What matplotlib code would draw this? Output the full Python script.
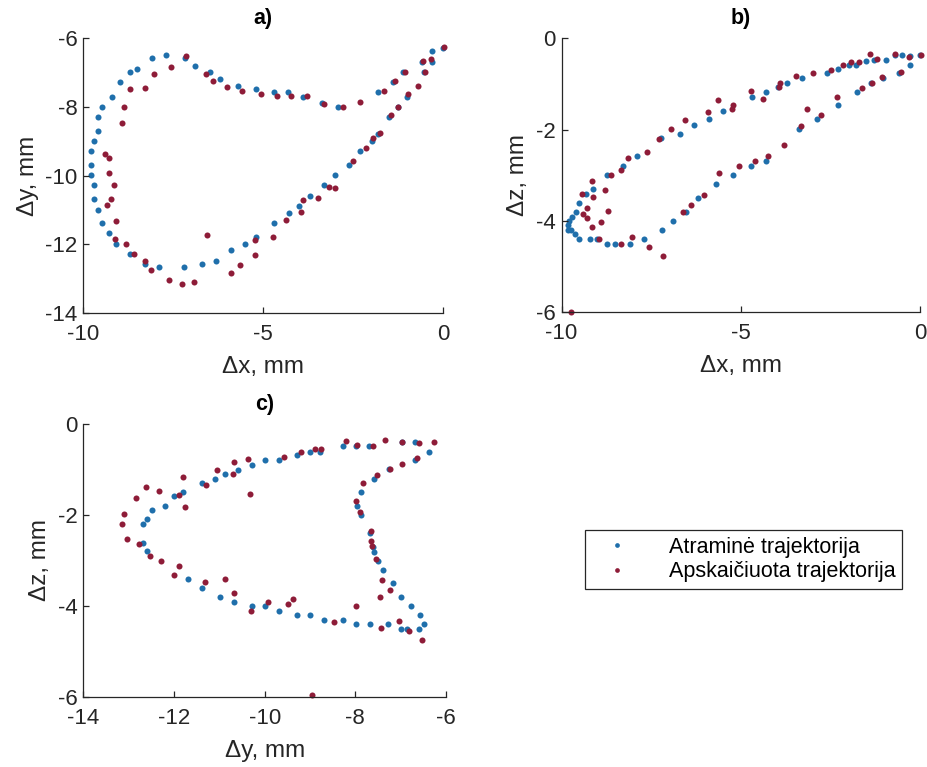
import matplotlib
matplotlib.use("Agg")
import matplotlib.pyplot as plt
from matplotlib.lines import Line2D

plt.rcParams['font.family'] = ['Liberation Sans', 'DejaVu Sans']

# --- a) Δx vs Δy ---
a_ref_x = [0.00, -0.31, -0.31, -0.60, -0.53, -1.11, -1.39, -1.81, -2.92, -3.38, -3.89, -4.31,
           -4.70, -5.19, -5.69, -6.20, -6.48, -6.90, -7.18, -7.70, -8.10, -8.50, -8.70, -8.98,
           -9.19, -9.49, -9.58, -9.58, -9.70, -9.79, -9.79, -9.79, -9.69, -9.69, -9.58, -9.49,
           -9.29, -9.09, -8.69, -8.29, -7.89, -7.19, -6.69, -6.30, -5.90, -5.50, -5.20, -4.69,
           -4.30, -4.00, -3.70, -3.31, -3.00, -2.61, -2.31, -1.99, -1.81, -1.50, -1.27, -1.00]
a_ref_y = [-6.29, -6.37, -6.70, -6.70, -6.99, -6.99, -7.28, -7.58, -7.99, -7.89, -7.70, -7.58,
           -7.58, -7.49, -7.39, -7.19, -6.99, -6.80, -6.58, -6.49, -6.58, -6.89, -6.99, -7.28,
           -7.70, -7.99, -8.30, -8.69, -8.98, -9.30, -9.69, -9.98, -10.29, -10.69, -11.00, -11.39,
           -11.68, -11.99, -12.28, -12.58, -12.68, -12.68, -12.58, -12.49, -12.18, -11.99, -11.80, -11.39,
           -11.09, -10.89, -10.59, -10.29, -9.99, -9.69, -9.29, -8.99, -8.80, -8.30, -7.99, -7.70]
a_est_x = [0.03, -0.35, -0.56, -0.51, -1.06, -1.34, -1.64, -2.31, -2.78, -3.31, -3.80, -4.23,
           -4.61, -5.07, -5.60, -6.02, -6.39, -6.60, -7.15, -7.55, -8.03, -8.29, -8.69, -8.86,
           -8.92, -9.40, -9.28, -9.28, -9.14, -9.24, -9.35, -9.09, -9.12, -8.80, -8.59, -8.29,
           -8.13, -7.61, -7.27, -6.93, -6.56, -5.91, -5.65, -5.23, -5.23, -4.72, -4.37, -3.95,
           -3.89, -3.47, -3.17, -3.01, -2.50, -2.16, -1.94, -1.76, -1.44, -1.25, -0.97, -0.71]
a_est_y = [-6.26, -6.61, -6.65, -6.97, -6.97, -7.24, -7.53, -7.87, -7.99, -7.91, -7.67, -7.67,
           -7.67, -7.63, -7.55, -7.43, -7.24, -7.04, -6.53, -6.83, -7.04, -7.44, -7.49, -7.99,
           -8.48, -9.37, -9.50, -9.93, -10.29, -10.68, -10.85, -11.32, -11.85, -11.99, -12.28, -12.50,
           -12.75, -13.04, -13.16, -13.11, -11.73, -12.83, -12.62, -12.31, -11.87, -11.80, -11.29, -11.05,
           -10.71, -10.67, -10.34, -10.37, -9.59, -9.20, -8.91, -8.77, -8.23, -7.99, -7.63, -7.39]

# --- b) Δx vs Δz ---
b_ref_x = [0.00, -0.28, -0.51, -0.70, -0.97, -1.30, -1.53, -1.79, -1.99, -2.30, -2.60, -3.29,
           -3.71, -3.97, -4.30, -4.70, -5.50, -5.89, -6.31, -6.71, -7.22, -7.90, -8.30, -8.72,
           -9.11, -9.32, -9.51, -9.60, -9.72, -9.79, -9.83, -9.81, -9.74, -9.63, -9.51, -9.21,
           -9.02, -8.72, -8.51, -8.10, -7.70, -7.21, -6.90, -6.52, -6.20, -5.70, -5.21, -4.71,
           -4.29, -3.39, -2.89, -2.30, -1.78, -1.39, -1.04, -0.60, -0.30]
b_ref_z = [-0.37, -0.38, -0.37, -0.37, -0.47, -0.47, -0.49, -0.58, -0.58, -0.68, -0.77, -0.88,
           -0.97, -1.07, -1.18, -1.29, -1.59, -1.78, -1.89, -2.09, -2.18, -2.59, -2.79, -3.00,
           -3.30, -3.41, -3.60, -3.80, -3.91, -4.00, -4.10, -4.21, -4.21, -4.30, -4.41, -4.41,
           -4.41, -4.51, -4.51, -4.51, -4.41, -4.21, -4.01, -3.80, -3.51, -3.20, -2.99, -2.79,
           -2.70, -1.99, -1.78, -1.47, -1.18, -0.97, -0.88, -0.77, -0.58]
b_est_x = [0.02, -0.32, -0.70, -1.42, -1.21, -1.72, -1.93, -2.15, -2.50, -2.99, -3.48, -3.91,
           -3.94, -4.38, -4.72, -5.22, -5.24, -5.65, -5.92, -6.57, -6.94, -7.28, -7.63, -8.14,
           -8.33, -8.63, -9.14, -9.11, -9.42, -9.28, -9.39, -9.29, -9.16, -8.89, -8.79, -8.70,
           -8.95, -8.35, -8.04, -7.56, -7.16, -6.61, -6.40, -6.03, -5.60, -5.06, -4.62, -4.24,
           -3.80, -3.32, -3.15, -2.78, -2.32, -1.64, -1.35, -1.07, -0.54, -9.73]
b_est_z = [-0.37, -0.40, -0.34, -0.35, -0.46, -0.53, -0.53, -0.58, -0.69, -0.75, -0.82, -0.99,
           -1.07, -1.34, -1.15, -1.47, -1.54, -1.36, -1.61, -1.79, -1.99, -2.20, -2.50, -2.62,
           -2.88, -3.00, -3.12, -3.47, -3.41, -3.71, -3.85, -3.95, -4.13, -4.02, -3.33, -3.79,
           -4.39, -4.51, -4.35, -4.57, -4.78, -3.80, -3.65, -3.43, -2.96, -2.79, -2.69, -2.57,
           -2.35, -1.93, -1.56, -1.68, -1.28, -1.09, -0.97, -0.85, -0.73, -5.99]

# --- c) Δy vs Δz ---
c_ref_y = [-6.37, -6.68, -6.98, -7.69, -7.99, -8.28, -8.79, -8.99, -9.28, -9.69, -9.99, -10.29,
           -10.59, -10.88, -11.09, -11.38, -11.79, -11.99, -12.19, -12.49, -12.60, -12.69, -12.69, -12.60,
           -11.69, -11.38, -10.98, -10.68, -10.29, -9.99, -9.69, -9.29, -8.99, -8.69, -8.28, -7.99,
           -7.68, -7.29, -6.99, -6.87, -6.59, -6.48, -6.57, -6.77, -6.99, -7.18, -7.38, -7.49,
           -7.58, -7.61, -7.67, -7.88, -7.97, -7.88, -7.58, -7.25, -6.68]
c_ref_z = [-0.61, -0.40, -0.40, -0.49, -0.49, -0.49, -0.61, -0.61, -0.69, -0.80, -0.80, -0.90,
           -1.01, -1.09, -1.20, -1.30, -1.50, -1.59, -1.81, -1.90, -2.10, -2.20, -2.61, -2.80,
           -3.41, -3.60, -3.81, -3.91, -4.00, -4.00, -4.11, -4.21, -4.21, -4.31, -4.31, -4.40,
           -4.40, -4.40, -4.50, -4.50, -4.50, -4.40, -4.20, -4.00, -3.81, -3.50, -3.21, -3.01,
           -2.81, -2.70, -2.39, -2.01, -1.80, -1.50, -1.20, -1.00, -0.80]
c_est_y = [-6.26, -6.60, -6.96, -7.35, -7.62, -7.97, -8.20, -8.75, -8.89, -9.19, -9.58, -10.36,
           -10.67, -11.05, -10.70, -11.29, -11.80, -11.88, -11.75, -12.32, -12.62, -12.83, -13.11, -13.15,
           -13.04, -12.77, -12.53, -12.28, -11.88, -11.99, -11.32, -10.87, -10.67, -10.33, -10.30, -9.92,
           -9.49, -9.37, -8.95, -8.47, -7.99, -7.44, -7.03, -6.81, -6.53, -7.23, -7.46, -7.41,
           -7.55, -7.64, -7.66, -7.66, -7.90, -7.99, -7.84, -7.53, -7.23, -6.96, -6.63]
c_est_z = [-0.40, -0.42, -0.40, -0.36, -0.49, -0.46, -0.38, -0.55, -0.56, -0.61, -0.73, -0.77,
           -0.84, -1.02, -1.09, -1.35, -1.17, -1.57, -1.82, -1.47, -1.39, -1.63, -1.99, -2.21,
           -2.52, -2.63, -2.90, -3.01, -3.12, -3.32, -3.47, -3.41, -3.71, -1.55, -4.12, -3.91,
           -3.96, -3.85, -5.96, -4.36, -4.01, -4.49, -4.34, -4.56, -4.76, -3.65, -3.80, -3.43,
           -2.96, -2.69, -2.58, -2.35, -1.93, -1.69, -1.30, -1.12, -0.99, -0.88, -0.75]

series_names = ['Atraminė trajektorija', 'Apskaičiuota trajektorija']
ref_color = '#1f6fab'
est_color = '#8e1c38'
ink = '#262626'

W, H = 928, 767
fig = plt.figure(figsize=(W / 100, H / 100), dpi=100)


def px_axes(left, right, top, bottom):
    return fig.add_axes([left / W, 1 - bottom / H, (right - left) / W, (bottom - top) / H])


def style(ax, xlim, ylim, xticks, yticks, xlabel, ylabel, title):
    ax.set_xlim(*xlim)
    ax.set_ylim(*ylim)
    ax.set_xticks(xticks)
    ax.set_yticks(yticks)
    ax.set_xticklabels([f'{t:g}' for t in xticks])
    ax.set_yticklabels([f'{t:g}' for t in yticks])
    for s in ('top', 'right'):
        ax.spines[s].set_visible(False)
    for s in ('left', 'bottom'):
        ax.spines[s].set_color(ink)
        ax.spines[s].set_linewidth(0.9)
    ax.tick_params(direction='in', length=4, width=0.9, color=ink,
                   labelsize=16, labelcolor=ink)
    ax.tick_params(axis='x', pad=8)
    ax.tick_params(axis='y', pad=4)
    ax.set_xlabel(xlabel, fontsize=17.5, color=ink, labelpad=8)
    ax.set_ylabel(ylabel, fontsize=17.5, color=ink, labelpad=5)
    ax.set_title(title, fontsize=15.5, fontweight='bold', color='black', pad=10)


dot = 19

ax_a = px_axes(83.3, 443.3, 38.3, 312.7)
ax_a.scatter(a_ref_x, a_ref_y, s=dot, color=ref_color, linewidths=0, clip_on=False)
ax_a.scatter(a_est_x, a_est_y, s=dot, color=est_color, linewidths=0, clip_on=False)
style(ax_a, (-10, 0), (-14, -6), [-10, -5, 0], [-14, -12, -10, -8, -6],
      'Δx, mm', 'Δy, mm', 'a)')

ax_b = px_axes(561.5, 920.5, 38.3, 312)
ax_b.scatter(b_ref_x, b_ref_z, s=dot, color=ref_color, linewidths=0, clip_on=False)
ax_b.scatter(b_est_x, b_est_z, s=dot, color=est_color, linewidths=0, clip_on=False)
style(ax_b, (-10, 0), (-6, 0), [-10, -5, 0], [-6, -4, -2, 0],
      'Δx, mm', 'Δz, mm', 'b)')

ax_c = px_axes(83.3, 446, 424, 696.7)
ax_c.scatter(c_ref_y, c_ref_z, s=dot, color=ref_color, linewidths=0, clip_on=False)
ax_c.scatter(c_est_y, c_est_z, s=dot, color=est_color, linewidths=0, clip_on=False)
style(ax_c, (-14, -6), (-6, 0), [-14, -12, -10, -8, -6], [-6, -4, -2, 0],
      'Δy, mm', 'Δz, mm', 'c)')

handles = [Line2D([], [], linestyle='none', marker='o', markersize=3.4,
                  markerfacecolor=c, markeredgewidth=0)
           for c in (ref_color, est_color)]
leg = fig.legend(handles, series_names, loc='center',
                 bbox_to_anchor=(743.5 / W, 1 - 559.5 / H),
                 fontsize=15.5, frameon=True, fancybox=False, framealpha=1,
                 edgecolor=ink, handlelength=2.4, handletextpad=1.2,
                 borderpad=0.3, labelspacing=0.15, borderaxespad=0)
leg.get_frame().set_linewidth(0.9)
for t in leg.get_texts():
    t.set_color('black')

fig.savefig('out.png', dpi=100, facecolor='white')
